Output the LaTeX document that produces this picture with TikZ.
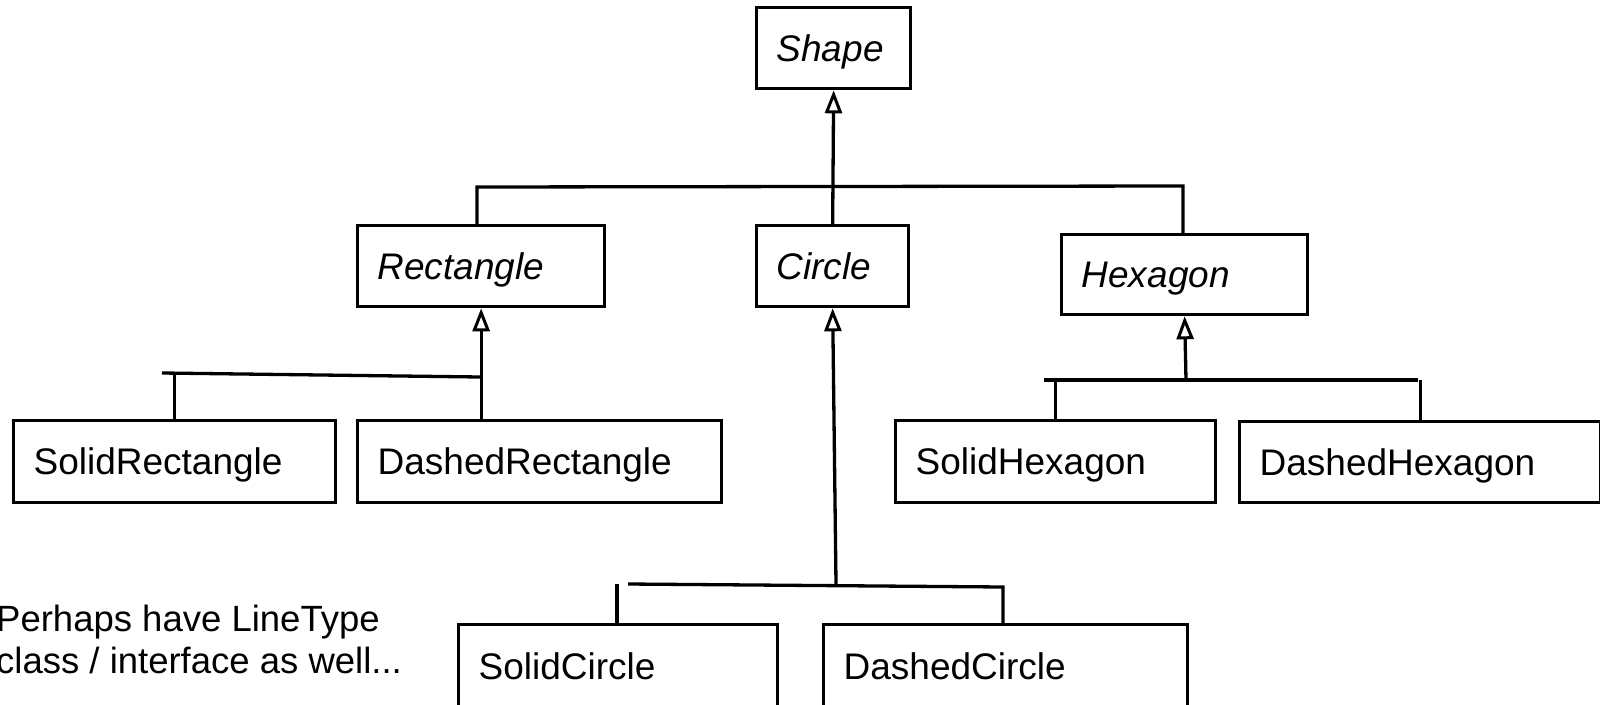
\documentclass[tikz,border=0pt]{standalone}
\usepackage{fontspec}
\setmainfont{Liberation Sans}
\usetikzlibrary{arrows.meta}
\begin{document}
\begin{tikzpicture}[x=1pt,y=-1pt,
  cls/.style={draw, line width=3.3pt, rectangle, anchor=north west, inner xsep=20pt, inner ysep=0pt,
    text height=26pt, text depth=0pt, align=left, font=\fontsize{37}{44}\selectfont},
  conn/.style={line width=3.3pt},
  inh/.style={line width=3.3pt, -{Triangle[open, length=23pt, width=17pt, line width=3pt]}},
  note/.style={anchor=base west, inner sep=0pt, font=\fontsize{36.5}{42}\selectfont}]
\useasboundingbox (0,0) rectangle (1600,704);

% class boxes
\node[cls, text width=114pt, minimum height=81pt] (shape) at (755,6) {\itshape Shape};
\node[cls, text width=207pt, minimum height=81pt] (rectangle) at (356,224) {\itshape Rectangle};
\node[cls, text width=112pt, minimum height=81pt] (circle) at (755,224) {\itshape Circle};
\node[cls, text width=206pt, minimum height=80pt] (hexagon) at (1060,233) {\itshape Hexagon};
\node[cls, text width=282pt, minimum height=82pt] (solidrect) at (12,419) {SolidRectangle};
\node[cls, text width=324pt, minimum height=82pt] (dashedrect) at (356,419) {DashedRectangle};
\node[cls, text width=280pt, minimum height=82pt] (solidhex) at (894,419) {SolidHexagon};
\node[cls, text width=321pt, minimum height=81pt] (dashedhex) at (1238,420) {DashedHexagon};
\node[cls, text width=279pt, minimum height=83pt] (solidcircle) at (457,623) {SolidCircle};
\node[cls, text width=324pt, minimum height=83pt] (dashedcircle) at (822,623) {DashedCircle};

% Shape level
\draw[inh] (circle.north) -- (shape.south);
\coordinate (tl) at (477,187);
\coordinate (tr) at (1183,186);
\draw[conn] (rectangle.north -| tl) -- (tl) -- (tr) -- (hexagon.north -| tr);

% Rectangle subtree
\coordinate (rl) at (162,373);
\coordinate (rr) at (480,377);
\draw[conn] (rl) -- (rr);
\draw[inh] (dashedrect.north -| rectangle.south) -- (rectangle.south);
\draw[conn] (solidrect.north) -- (solidrect.north |- rl);

% Hexagon subtree
\coordinate (hm) at (1186,380);
\coordinate (hl) at (1044,380);
\coordinate (hr) at (1418,380);
\draw[inh] (hm) -- (hexagon.south);
\draw[conn] (hl) -- (hr);
\draw[conn] (solidhex.north) -- (solidhex.north |- hl);
\draw[conn] (dashedhex.north) -- (dashedhex.north |- hr);

% Circle subtree
\coordinate (cm) at (836,584);
\coordinate (cl) at (628,584);
\coordinate (cr) at (1003,587);
\coordinate (cx) at (617,584);
\draw[inh] (cm) -- (circle.south);
\draw[conn] (cl) -- (cr) -- (dashedcircle.north -| cr);
\draw[conn] (solidcircle.north -| cx) -- (cx);

% note
\node[note] (note1) at (-4,631) {Perhaps have LineType};
\node[note] (note2) at (-4,673) {class / interface as well...};
\end{tikzpicture}
\end{document}
